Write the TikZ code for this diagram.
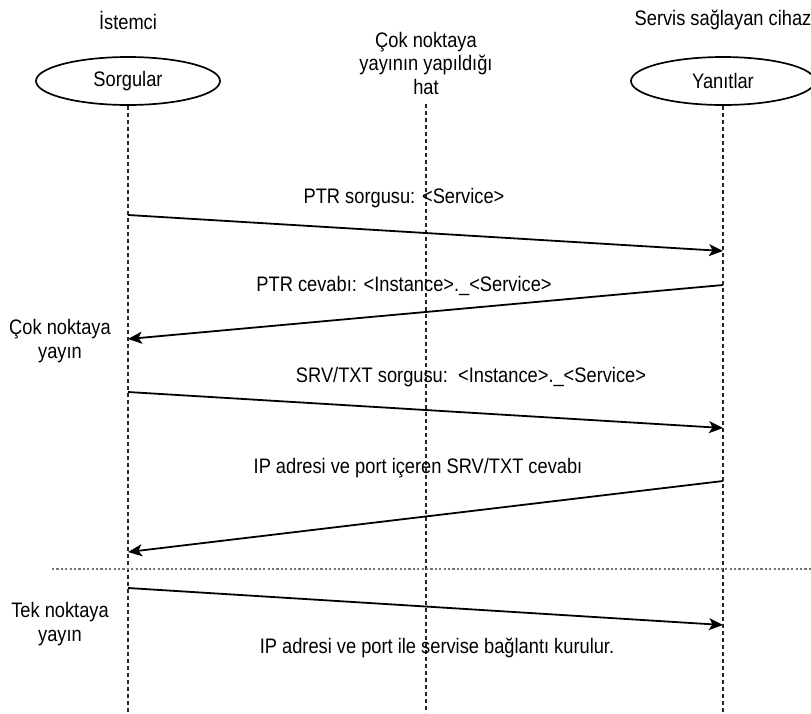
\documentclass[tikz,border=0pt]{standalone}
\usepackage{fontspec}
\usetikzlibrary{arrows.meta,shapes.geometric}
\newfontfamily\labfont[FakeStretch=0.87]{Liberation Sans}
\begin{document}
\begin{tikzpicture}[x=1pt,y=-1pt,
  lab/.style={font=\labfont\fontsize{21}{23.5}\selectfont, align=center, inner sep=0pt, text=black},
  actor/.style={ellipse, draw=black, line width=1.7pt, minimum width=184pt, minimum height=48pt, inner sep=0pt},
  lifeline/.style={draw=black!85, line width=1.3pt, dash pattern=on 4pt off 3pt},
  msg/.style={draw=black, line width=1.8pt, -{Stealth[length=14pt,width=12pt,inset=3.5pt]}},
  sep/.style={draw=black!55, line width=2pt, dash pattern=on 2.2pt off 2.2pt}]
\useasboundingbox (0,0) rectangle (811,713);

% participants
\node[lab] (client) at (128,20) {İstemci};
\node[lab] (server) at (723,20) {Servis sağlayan cihaz};
\node[actor] (q) at (128,81) {};
\node[lab] at (q.center) {Sorgular};
\node[actor] (r) at (723,81) {};
\node[lab] at (r.center) {Yanıtlar};
\node[lab] (mc) at (426,63) {Çok noktaya\\yayının yapıldığı\\hat};

% lifelines
\coordinate (qend) at (128,713);
\coordinate (mtop) at (426,104);
\coordinate (mend) at (426,713);
\coordinate (rend) at (723,713);
\draw[lifeline] (q.south) -- (qend);
\draw[lifeline] (mtop) -- (mend);
\draw[lifeline] (r.south) -- (rend);

% message end points on the lifelines
\coordinate (m1a) at (128,215);
\coordinate (m1b) at (723,251);
\coordinate (m2a) at (723,285);
\coordinate (m2b) at (128,339);
\coordinate (m3a) at (128,392);
\coordinate (m3b) at (723,428);
\coordinate (m4a) at (723,481);
\coordinate (m4b) at (128,552);
\coordinate (m5a) at (128,588);
\coordinate (m5b) at (723,625);

% messages
\draw[msg] (m1a) -- (m1b);
\draw[msg] (m2a) -- (m2b);
\draw[msg] (m3a) -- (m3b);
\draw[msg] (m4a) -- (m4b);
\draw[msg] (m5a) -- (m5b);

% message labels
\node[lab] (l1) at (404,198) {PTR sorgusu: <Service>};
\node[lab] (l2) at (404,286) {PTR cevabı: <Instance>.\_<Service>};
\node[lab] (l3) at (471,377) {SRV/TXT sorgusu:\ \ <Instance>.\_<Service>};
\node[lab] (l4) at (418,468) {IP adresi ve port içeren SRV/TXT cevabı};
\node[lab] (l5) at (437,648) {IP adresi ve port ile servise bağlantı kurulur.};

% multicast / unicast separator
\coordinate (sepa) at (52,569);
\coordinate (sepb) at (811,569);
\draw[sep] (sepa) -- (sepb);

% phase labels
\node[lab] (multi) at (60,341) {Çok noktaya\\yayın};
\node[lab] (uni) at (60,624) {Tek noktaya\\yayın};
\end{tikzpicture}
\end{document}
